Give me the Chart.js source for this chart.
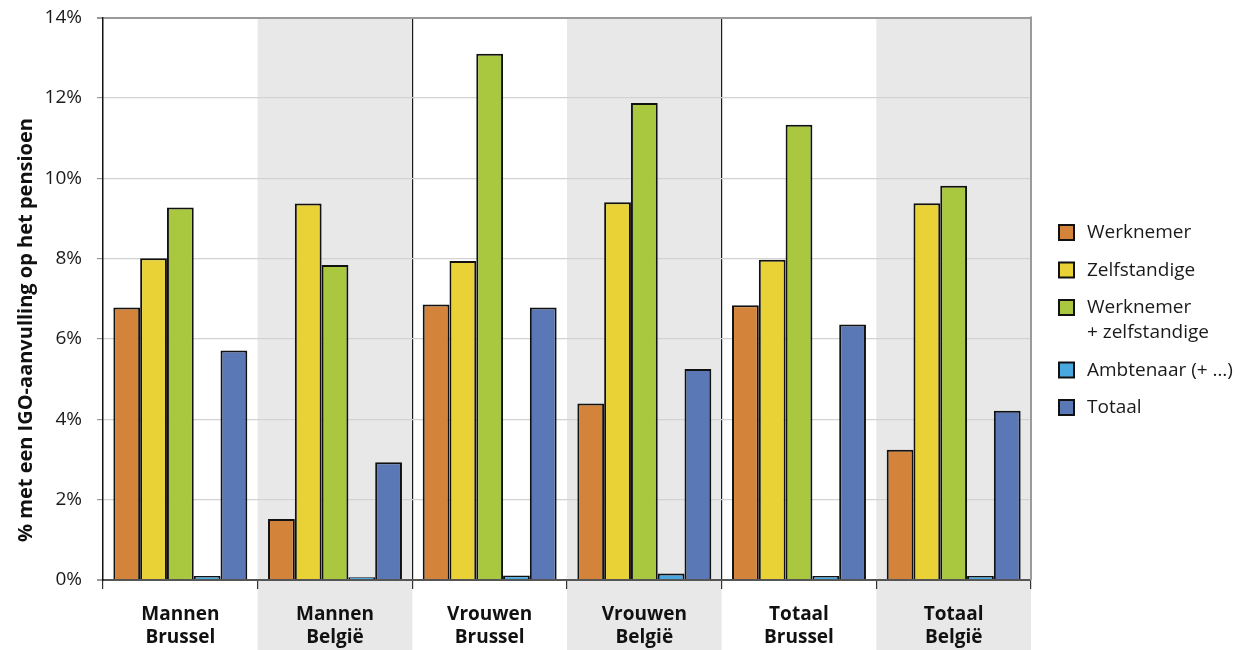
<!DOCTYPE html>
<html>
<head>
<meta charset="utf-8">
<script src="https://cdn.jsdelivr.net/npm/chart.js@4/dist/chart.umd.min.js"></script>
<style>
  html, body { margin: 0; padding: 0; background: #ffffff; }
  #wrap { width: 1253px; height: 650px; position: relative; }
</style>
</head>
<body>
<div id="wrap"><canvas id="c" width="1253" height="650"></canvas></div>
<script>
// Groups on the x axis (two-line labels)
const categories = [
  ["Mannen", "Brussel"],
  ["Mannen", "België"],
  ["Vrouwen", "Brussel"],
  ["Vrouwen", "België"],
  ["Totaal", "Brussel"],
  ["Totaal", "België"]
];

// Share (%) with an IGO supplement, per pension type
const werknemer      = [6.78, 1.52, 6.86, 4.39, 6.84, 3.24];
const zelfstandige   = [8.01, 9.37, 7.94, 9.40, 7.97, 9.38];
const werknemerZelf  = [9.27, 7.84, 13.10, 11.87, 11.33, 9.81];
const ambtenaar      = [0.10, 0.07, 0.11, 0.16, 0.10, 0.10];
const totaal         = [5.71, 2.93, 6.78, 5.25, 6.36, 4.21];

const seriesNames = ["Werknemer", "Zelfstandige", "Werknemer\n+ zelfstandige", "Ambtenaar (+ …)", "Totaal"];
const seriesColors = ["#d4843a", "#e8d235", "#a9c83f", "#4aa8e0", "#5a77b6"];

const yTicks = [0, 2, 4, 6, 8, 10, 12, 14];
const yTitle = "% met een IGO-aanvulling op het pensioen";

const FONT = "'Open Sans', 'DejaVu Sans', sans-serif";

// Alternate grey bands behind every second group, reaching into the label area,
// plus the grey frame line on the right of the plot
const bandPlugin = {
  id: 'bands',
  beforeDraw(chart) {
    const { ctx, chartArea, scales } = chart;
    const x = scales.x;
    const step = (chartArea.right - chartArea.left) / categories.length;
    ctx.save();
    ctx.fillStyle = '#e8e8e8';
    categories.forEach((c, i) => {
      if (i % 2 === 1) {
        const cx = x.getPixelForValue(i);
        ctx.fillRect(cx - step / 2, chartArea.top, step, chart.height - chartArea.top);
      }
    });
    ctx.restore();
  },
  afterDatasetsDraw(chart) {
    const { ctx, chartArea } = chart;
    ctx.save();
    ctx.strokeStyle = '#9a9a9a';
    ctx.lineWidth = 2;
    ctx.beginPath();
    ctx.moveTo(chartArea.right, chartArea.top - 1);
    ctx.lineTo(chartArea.right, chartArea.bottom);
    ctx.stroke();
    ctx.restore();
  }
};

// Rotated axis title and the side legend
const sidePlugin = {
  id: 'side',
  afterDraw(chart) {
    const { ctx } = chart;
    ctx.save();
    // axis title
    ctx.translate(26, 330);
    ctx.rotate(-Math.PI / 2);
    ctx.font = "bold 20px " + FONT;
    ctx.fillStyle = '#111';
    ctx.textAlign = 'center';
    ctx.textBaseline = 'middle';
    ctx.fillText(yTitle, 0, 0);
    ctx.restore();

    // legend
    ctx.save();
    ctx.font = "19px " + FONT;
    ctx.textBaseline = 'middle';
    ctx.textAlign = 'left';
    let y = 233;
    chart.data.datasets.forEach((ds) => {
      ctx.fillStyle = ds.backgroundColor;
      ctx.fillRect(1059, y - 8, 15, 15);
      ctx.strokeStyle = '#111';
      ctx.lineWidth = 2;
      ctx.strokeRect(1059, y - 8, 15, 15);
      const lines = ds.label.split('\n');
      ctx.fillStyle = '#1a1a1a';
      lines.forEach((ln, k) => ctx.fillText(ln, 1087, y + k * 25));
      y += 37.5 + (lines.length - 1) * 25;
    });
    ctx.restore();
  }
};

const datasetValues = [werknemer, zelfstandige, werknemerZelf, ambtenaar, totaal];

new Chart(document.getElementById('c'), {
  type: 'bar',
  data: {
    labels: categories,
    datasets: datasetValues.map((vals, i) => ({
      label: seriesNames[i],
      data: vals,
      backgroundColor: seriesColors[i],
      borderColor: '#111',
      borderWidth: 2,
      borderSkipped: 'start',
      categoryPercentage: 0.866,
      barPercentage: 1.0
    }))
  },
  options: {
    responsive: false,
    animation: false,
    layout: { padding: { top: 17.5, right: 222, bottom: 0, left: 0 } },
    plugins: {
      legend: { display: false },
      tooltip: { enabled: false }
    },
    scales: {
      x: {
        offset: true,
        grid: {
          offset: true,
          drawOnChartArea: true,
          color: (ctx) => {
            const i = ctx.index;
            if (i === 2 || i === 4) return '#1a1a1a';
            return 'rgba(0,0,0,0)';
          },
          lineWidth: 1.2,
          tickColor: '#333',
          tickLength: 9,
          tickWidth: 1.2
        },
        border: { display: true, color: '#555', width: 2 },
        ticks: {
          font: { family: FONT, size: 19, weight: 'bold' },
          color: '#111',
          padding: 14,
          maxRotation: 0,
          autoSkip: false
        },
        afterFit(scale) {
          scale.height = 70;
          scale.paddingLeft = 0;
          scale.paddingRight = 0;
        }
      },
      y: {
        min: 0,
        max: 14,
        afterBuildTicks(scale) { scale.ticks = yTicks.map(v => ({ value: v })); },
        grid: {
          color: (ctx) => {
            const v = ctx.tick && ctx.tick.value;
            if (v === 14) return '#9a9a9a';
            if (v === 0) return '#555';
            return '#d2d2d2';
          },
          lineWidth: (ctx) => {
            const v = ctx.tick && ctx.tick.value;
            return (v === 14 || v === 0) ? 2 : 1.2;
          },
          tickColor: '#999',
          tickLength: 6
        },
        border: { display: true, color: '#111', width: 1.5 },
        ticks: {
          font: { family: FONT, size: 19 },
          color: '#1a1a1a',
          padding: 15,
          callback: (v) => v + '%'
        },
        afterFit(scale) {
          scale.width = 103;
          scale.paddingTop = 0;
          scale.paddingBottom = 0;
        }
      }
    }
  },
  plugins: [bandPlugin, sidePlugin]
});
</script>
</body>
</html>
